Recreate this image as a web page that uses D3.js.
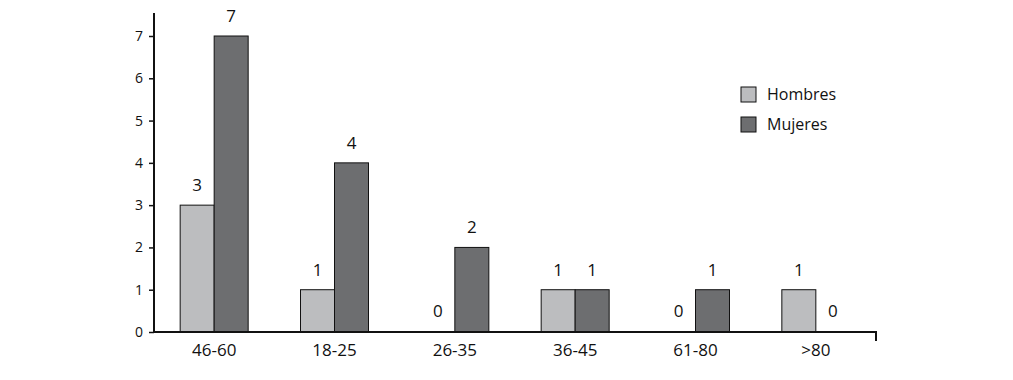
<!DOCTYPE html>
<html><head><meta charset="utf-8">
<script src="https://cdn.jsdelivr.net/npm/d3@7"></script>
<style>body{margin:0;background:#fff;} text{font-family:"Open Sans","Noto Sans",sans-serif;fill:#111;}</style>
</head><body>
<svg id="c" width="1013" height="380"></svg>
<script>
const categories = ["46-60","18-25","26-35","36-45","61-80",">80"];
const hombres = [3,1,0,1,0,1];
const mujeres = [7,4,2,1,1,0];
const seriesNames = ["Hombres","Mujeres"];
const yTicks = [0,1,2,3,4,5,6,7];
const colors = ["#bcbdbf","#6d6e70"];

const svg = d3.select("#c");
const x0 = 154, x1 = 876, yBase = 332;
const x = d3.scaleBand().domain(categories).range([x0, x1]).padding(0);
const y = d3.scaleLinear().domain([0,7]).range([yBase, 36]);
const barW = 34;
const sub = d3.scaleBand().domain(seriesNames).range([-barW, barW]).padding(0);

const data = [hombres, mujeres];
data.forEach((vals, si) => {
  const g = svg.append("g");
  categories.forEach((c, i) => {
    const v = vals[i];
    const cx = x(c) + x.bandwidth()/2 + sub(seriesNames[si]);
    if (v > 0) {
      g.append("rect").attr("x", cx).attr("y", y(v)).attr("width", sub.bandwidth()).attr("height", yBase - y(v))
        .attr("fill", colors[si]).attr("stroke", "#111").attr("stroke-width", 1);
    }
    g.append("text").attr("x", cx + sub.bandwidth()/2).attr("y", y(v) - (v > 0 ? 14 : 15))
      .attr("text-anchor", "middle").style("font-size", "17px").text(v);
  });
});

// y axis
const yAxis = d3.axisLeft(y).tickValues(yTicks).tickSize(5).tickPadding(6).tickFormat(d3.format("d"));
const ya = svg.append("g").attr("transform", `translate(${x0},0)`).call(yAxis);
ya.select(".domain").remove();
ya.selectAll("line").attr("stroke", "#111").attr("stroke-width", 1.5);
ya.selectAll("text").style("font-size", "14px").attr("fill", "#111");
svg.append("line").attr("x1", x0).attr("x2", x0).attr("y1", 13).attr("y2", yBase + 1).attr("stroke", "#111").attr("stroke-width", 2);

// x axis
const xAxis = d3.axisBottom(x).tickSize(0).tickPadding(12);
const xa = svg.append("g").attr("transform", `translate(0,${yBase})`).call(xAxis);
xa.select(".domain").remove();
xa.selectAll("text").style("font-size", "17px").attr("fill", "#111");
svg.append("path").attr("d", `M${x0},${yBase}H${x1}V${yBase+9}`).attr("fill", "none").attr("stroke", "#111").attr("stroke-width", 2);

// legend
const leg = svg.append("g");
seriesNames.forEach((n, i) => {
  leg.append("rect").attr("x", 741).attr("y", 87 + i*30).attr("width", 15).attr("height", 15)
    .attr("fill", colors[i]).attr("stroke", "#111").attr("stroke-width", 1);
  leg.append("text").attr("x", 767).attr("y", 100 + i*30).style("font-size", "16px").text(n);
});
</script>
</body></html>
